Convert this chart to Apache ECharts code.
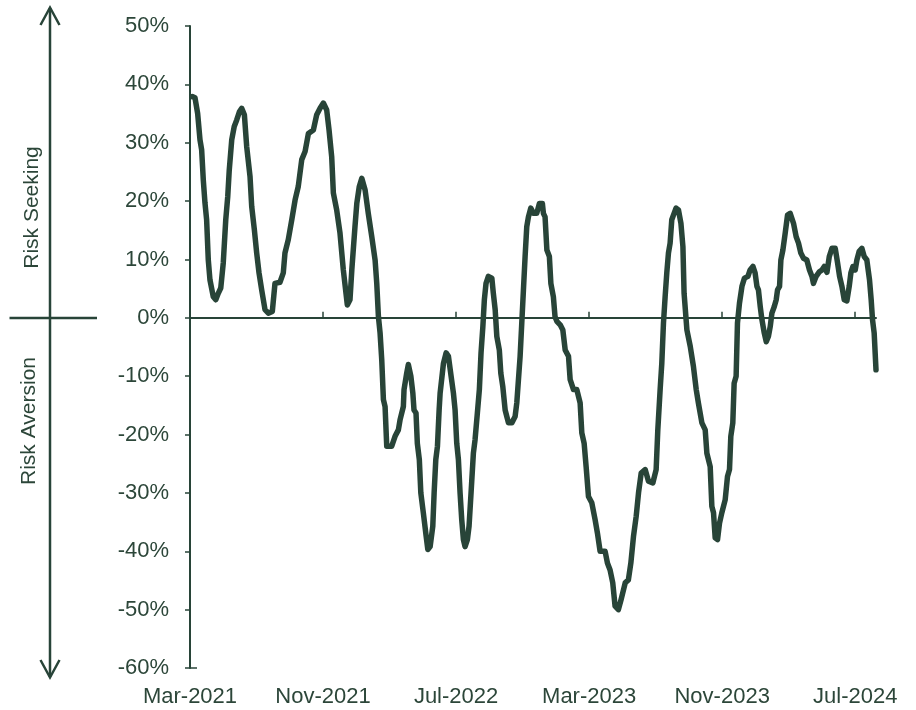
<!DOCTYPE html>
<html>
<head>
<meta charset="utf-8">
<script src="https://cdn.jsdelivr.net/npm/echarts@6/dist/echarts.min.js"></script>
<style>
  html, body { margin: 0; padding: 0; background: #ffffff; }
  #chart { width: 916px; height: 710px; }
</style>
</head>
<body>
<div id="chart"></div>
<script>
// Tick labels of the month axis (every 8 months from Mar-2021)
const tickLabels = ['Mar-2021', 'Nov-2021', 'Jul-2022', 'Mar-2023', 'Nov-2023', 'Jul-2024'];
const tickMonths = [0, 8, 16, 24, 32, 40];
const lastMonth = 41.25; // last observation, months after 1 Mar 2021

// [months after 1 Mar 2021, risk appetite %]
const riskAppetite = [
  [0.14,37.9],[0.30,37.7],[0.46,35.0],[0.60,30.5],[0.70,28.8],[0.80,23.6],[0.90,19.7],[1.00,16.8],
  [1.10,9.9],[1.20,6.5],[1.40,3.6],[1.55,3.1],[1.70,4.2],[1.85,5.1],[2.00,9.4],[2.15,16.8],
  [2.27,20.8],[2.36,25.3],[2.51,30.5],[2.66,32.8],[2.81,33.9],[2.97,35.3],[3.11,35.9],[3.27,34.8],
  [3.41,29.3],[3.61,24.2],[3.71,19.1],[3.87,15.1],[4.01,11.1],[4.15,7.7],[4.31,4.8],[4.51,1.4],
  [4.71,0.8],[4.95,1.1],[5.11,5.9],[5.41,6.1],[5.61,7.7],[5.71,11.1],[5.91,13.4],[6.12,16.8],
  [6.32,20.2],[6.51,22.5],[6.72,27.1],[6.92,28.5],[7.12,31.6],[7.42,32.2],[7.62,34.8],[7.82,35.9],
  [8.02,36.8],[8.22,35.6],[8.36,32.2],[8.52,27.6],[8.62,21.4],[8.82,18.5],[9.02,14.5],[9.22,8.2],
  [9.46,2.2],[9.62,3.1],[9.73,8.2],[9.92,15.6],[10.03,19.6],[10.18,22.5],[10.33,23.9],[10.53,21.9],
  [10.72,17.9],[10.93,13.9],[11.13,9.9],[11.23,5.9],[11.33,0.2],[11.43,-2.6],[11.53,-7.2],[11.63,-14.0],
  [11.73,-15.2],[11.83,-22.0],[12.13,-22.0],[12.33,-20.3],[12.53,-19.2],[12.63,-17.5],[12.83,-15.2],[12.87,-12.3],
  [13.03,-9.5],[13.13,-8.0],[13.28,-10.0],[13.40,-12.9],[13.47,-15.8],[13.59,-16.3],[13.67,-21.5],[13.79,-24.3],
  [13.88,-30.0],[14.03,-33.4],[14.20,-37.4],[14.30,-39.7],[14.44,-39.2],[14.60,-35.7],[14.68,-30.0],[14.78,-24.3],
  [14.88,-22.0],[14.98,-15.8],[15.04,-12.9],[15.24,-7.8],[15.40,-6.0],[15.54,-6.6],[15.70,-10.0],[15.84,-12.9],
  [15.94,-15.8],[16.04,-21.5],[16.14,-24.3],[16.24,-30.0],[16.34,-34.6],[16.44,-38.0],[16.54,-39.2],[16.68,-38.0],
  [16.78,-35.7],[16.90,-30.0],[17.04,-23.2],[17.14,-20.9],[17.28,-16.3],[17.40,-12.3],[17.50,-6.0],[17.61,-1.5],
  [17.70,3.1],[17.80,5.9],[17.94,7.1],[18.15,6.8],[18.24,4.2],[18.35,1.4],[18.45,-3.2],[18.60,-5.5],
  [18.69,-9.5],[18.81,-11.8],[18.95,-15.8],[19.05,-16.9],[19.15,-18.0],[19.35,-18.0],[19.55,-16.9],[19.65,-14.6],
  [19.85,-6.6],[19.95,-0.9],[20.05,4.8],[20.15,10.5],[20.25,15.6],[20.35,17.3],[20.49,18.8],[20.65,17.9],
  [20.85,17.9],[21.01,19.6],[21.19,19.6],[21.25,17.9],[21.35,17.3],[21.46,11.6],[21.61,10.5],[21.70,5.9],
  [21.85,3.6],[21.95,0.2],[22.06,-0.6],[22.26,-1.2],[22.42,-2.1],[22.56,-5.5],[22.76,-6.6],[22.86,-10.6],
  [23.06,-12.3],[23.26,-12.3],[23.46,-14.6],[23.56,-19.7],[23.70,-21.5],[23.82,-25.5],[23.96,-30.6],[24.16,-31.7],
  [24.36,-34.6],[24.50,-36.9],[24.66,-40.0],[24.96,-40.0],[25.10,-42.0],[25.26,-43.2],[25.42,-45.4],[25.56,-49.4],
  [25.76,-50.0],[25.92,-48.3],[26.17,-45.4],[26.36,-44.9],[26.51,-42.0],[26.67,-37.4],[26.83,-34.0],[26.97,-30.0],
  [27.13,-26.6],[27.37,-26.0],[27.57,-28.0],[27.83,-28.3],[28.03,-26.0],[28.13,-19.2],[28.27,-12.3],[28.37,-7.8],
  [28.47,-0.9],[28.57,3.6],[28.67,7.7],[28.77,11.1],[28.87,12.8],[28.97,16.8],[29.07,17.6],[29.23,18.8],
  [29.37,18.5],[29.52,16.2],[29.64,12.2],[29.71,4.2],[29.88,-2.1],[30.08,-4.9],[30.27,-8.3],[30.44,-12.3],
  [30.57,-14.6],[30.78,-18.0],[30.98,-19.2],[31.08,-23.2],[31.28,-25.5],[31.38,-32.3],[31.48,-33.4],[31.58,-37.7],
  [31.72,-38.0],[31.84,-35.2],[31.98,-33.4],[32.18,-31.2],[32.32,-27.2],[32.44,-26.0],[32.52,-20.3],[32.64,-18.0],
  [32.72,-11.2],[32.84,-10.0],[32.92,-0.9],[33.04,2.5],[33.19,5.4],[33.34,6.8],[33.55,7.1],[33.68,8.2],
  [33.85,8.8],[33.98,7.7],[34.09,5.4],[34.18,4.8],[34.29,1.9],[34.39,-0.3],[34.53,-2.6],[34.65,-4.1],
  [34.78,-3.2],[34.89,-1.5],[34.99,0.8],[35.13,1.9],[35.25,3.1],[35.33,4.8],[35.45,5.4],[35.53,9.9],
  [35.65,11.6],[35.79,14.5],[35.93,17.6],[36.09,17.9],[36.29,16.2],[36.45,13.9],[36.59,12.8],[36.73,11.1],
  [36.89,10.2],[37.09,9.9],[37.25,8.2],[37.40,7.1],[37.49,5.9],[37.65,7.1],[37.85,7.9],[38.00,8.2],
  [38.14,8.8],[38.30,7.8],[38.44,10.5],[38.60,11.9],[38.80,11.9],[38.94,9.4],[39.06,7.1],[39.20,5.4],
  [39.34,3.1],[39.50,2.9],[39.64,5.4],[39.74,7.7],[39.86,8.8],[40.00,8.2],[40.10,9.9],[40.24,11.4],
  [40.40,11.9],[40.54,10.5],[40.70,9.9],[40.86,6.5],[40.96,3.1],[41.04,-0.3],[41.14,-2.6],[41.25,-8.9]
];

const ink = '#284438';
const textColor = '#2c4639';
const font = 'Liberation Sans, Arial, sans-serif';

const chart = echarts.init(document.getElementById('chart'), null, { renderer: 'canvas' });

chart.setOption({
  animation: false,
  backgroundColor: '#ffffff',
  grid: { left: 190, right: 40, top: 26, bottom: 42, containLabel: false },
  xAxis: [
    {
      type: 'value', min: 0, max: lastMonth, position: 'bottom',
      axisLine: { show: false, onZero: false },
      axisTick: { show: false },
      splitLine: { show: false },
      axisLabel: {
        customValues: tickMonths,
        formatter: function (v) { return tickLabels[tickMonths.indexOf(Math.round(v))] || ''; },
        fontSize: 22, color: textColor, fontFamily: font, margin: 18
      }
    },
    {
      type: 'value', min: 0, max: lastMonth, position: 'top',
      axisLine: { show: true, onZero: true, lineStyle: { color: ink, width: 2 } },
      axisTick: { show: true, customValues: tickMonths, length: 6, lineStyle: { color: ink, width: 1.5 } },
      axisLabel: { show: false },
      splitLine: { show: false }
    }
  ],
  yAxis: {
    type: 'value', min: -60, max: 50, interval: 10, position: 'left',
    axisLine: { show: true, onZero: false, lineStyle: { color: ink, width: 2 } },
    axisTick: { show: true, length: 5, lineStyle: { color: ink, width: 1.5 } },
    splitLine: { show: false },
    axisLabel: {
      formatter: '{value}%', fontSize: 22, color: textColor, fontFamily: font, margin: 21
    }
  },
  series: [{
    type: 'line',
    xAxisIndex: 0,
    data: riskAppetite,
    showSymbol: false,
    smooth: false,
    lineStyle: { color: ink, width: 5.5, cap: 'round', join: 'round' },
    z: 5
  }],
  graphic: [
    { type: 'line', shape: { x1: 50, y1: 8, x2: 50, y2: 677 }, style: { stroke: ink, lineWidth: 2.5 } },
    { type: 'polyline', shape: { points: [[40.5, 25], [50, 7.5], [59.5, 25]] }, style: { stroke: ink, lineWidth: 2.5, fill: null } },
    { type: 'polyline', shape: { points: [[40.5, 660], [50, 677.5], [59.5, 660]] }, style: { stroke: ink, lineWidth: 2.5, fill: null } },
    { type: 'line', shape: { x1: 9.5, y1: 318, x2: 97, y2: 318 }, style: { stroke: ink, lineWidth: 2.5 } },
    { type: 'line', shape: { x1: 190, y1: 668, x2: 197, y2: 668 }, style: { stroke: ink, lineWidth: 1.5 } },
    { type: 'text', x: 32, y: 207.5, rotation: Math.PI / 2,
      style: { text: 'Risk Seeking', fill: textColor, font: '21px ' + font, textAlign: 'center', textVerticalAlign: 'middle' } },
    { type: 'text', x: 29, y: 421, rotation: Math.PI / 2,
      style: { text: 'Risk Aversion', fill: textColor, font: '21px ' + font, textAlign: 'center', textVerticalAlign: 'middle' } }
  ]
});
</script>
</body>
</html>
